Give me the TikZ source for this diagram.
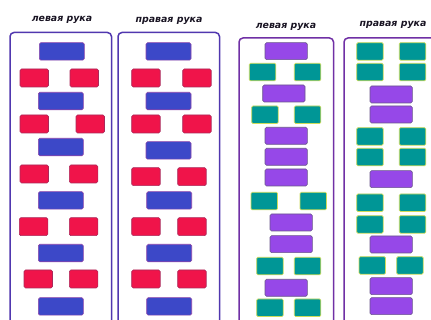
\documentclass[tikz,border=0pt]{standalone}
\usepackage{fontspec}
\setmainfont{DejaVu Sans}
\usetikzlibrary{positioning}
\definecolor{BlockBlue}{RGB}{60,72,200}
\definecolor{BlueEdge}{RGB}{140,70,170}
\definecolor{BlockRed}{RGB}{240,20,74}
\definecolor{RedEdge}{RGB}{170,40,90}
\definecolor{BlockViolet}{RGB}{150,72,232}
\definecolor{VioletEdge}{RGB}{105,85,140}
\definecolor{BlockTeal}{RGB}{0,150,150}
\definecolor{TealEdge}{RGB}{205,220,90}
\definecolor{FrameBlue}{RGB}{80,55,175}
\definecolor{FrameViolet}{RGB}{112,48,165}
\definecolor{TitleInk}{RGB}{25,20,35}
\tikzset{
  blueblock/.style={fill=BlockBlue,draw=BlueEdge,line width=0.6pt,rounded corners=1.5pt},
  redblock/.style={fill=BlockRed,draw=RedEdge,line width=0.6pt,rounded corners=1.5pt},
  violetblock/.style={fill=BlockViolet,draw=VioletEdge,line width=0.6pt,rounded corners=1.5pt},
  tealblock/.style={fill=BlockTeal,draw=TealEdge,line width=0.7pt,rounded corners=1.2pt},
  handtitle/.style={color=TitleInk,font=\fontsize{9.4}{11}\selectfont\bfseries\itshape}
}
\begin{document}
\begin{tikzpicture}[x=1pt,y=-1pt]
    \useasboundingbox (0,0) rectangle (431,320);
    \clip (0,0) rectangle (431,320);
    \fill[white] (0,0) rectangle (431,320);
    % frames
    \draw[FrameBlue,line width=1.5pt,rounded corners=4pt] (10,32.5) rectangle (111.5,332);
    \draw[FrameBlue,line width=1.5pt,rounded corners=4pt] (118,32.5) rectangle (219.5,332);
    \draw[FrameViolet,line width=1.5pt,rounded corners=4pt] (239,38) rectangle (333.5,332);
    \draw[FrameViolet,line width=1.5pt,rounded corners=4pt] (344,38) rectangle (441,332);
    % titles
    \node[handtitle] (leftA) at (62,20) {левая рука};
    \node[handtitle] (rightA) at (169,21) {правая рука};
    \node[handtitle] (leftB) at (286,27) {левая рука};
    \node[handtitle] (rightB) at (393,25) {правая рука};
    % blue and red columns
    \foreach \x/\y in {39.3/42.7,38.3/92.3,38.3/138.3,38.3/191.7,38.3/244.3,38.3/297.7,
                       146/42.7,146/92.3,146/141.7,146.7/191.7,146.7/244.3,146.7/297.7}
      \filldraw[blueblock] (\x,\y) rectangle ++(45,17.5);
    \foreach \l/\r/\y in {20/70/69,20/76/115,20/69.3/165,19.3/69.3/217.7,24/69.3/270,
                          131.7/182.7/69,131.7/182.7/115,131.7/177.7/167.7,131.7/177.7/217.7,131.7/177.7/270}{
      \filldraw[redblock] (\l,\y) rectangle ++(28.5,18);
      \filldraw[redblock] (\r,\y) rectangle ++(28.5,18);
    }
    % violet and teal columns
    \foreach \x/\y in {265/42.7,262.7/85,265/127.3,265/148.3,265/169,270/214,270/235.7,265/279.3,
                       370/86,370/106,370/170.7,370/236,370/277.7,370/297.7}
      \filldraw[violetblock] (\x,\y) rectangle ++(42.3,17);
    \foreach \l/\r/\y in {249.3/294.3/63.3,251.7/294.3/106,251/300/192.3,256.7/294.3/257.3,256.7/294.3/299,
                          356.7/399.3/42.7,356.7/399.3/63.3,356.7/399.3/127.7,356.7/399.3/148.3,
                          356.7/399.3/194,356.7/399.3/215.7,359/396.7/256.7}{
      \filldraw[tealblock] (\l,\y) rectangle ++(26.5,17.5);
      \filldraw[tealblock] (\r,\y) rectangle ++(26.5,17.5);
    }
\end{tikzpicture}
\end{document}
